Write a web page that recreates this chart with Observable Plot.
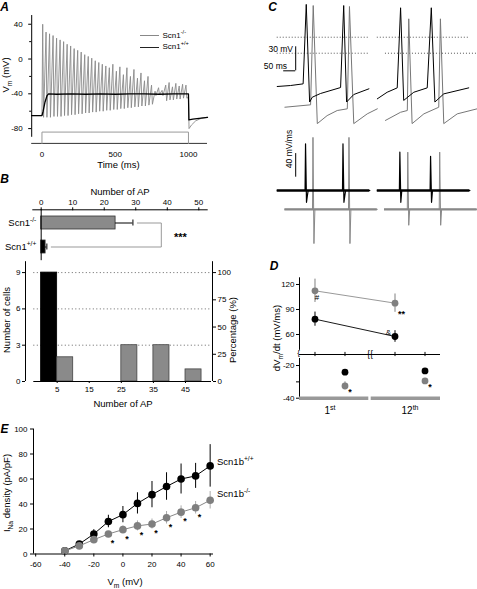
<!DOCTYPE html>
<html><head><meta charset="utf-8">
<script src="https://cdn.jsdelivr.net/npm/d3@7"></script>
<script src="https://cdn.jsdelivr.net/npm/@observablehq/plot@0.6"></script>
<style>
body{margin:0;background:#fff;}
#fig{position:relative;width:477px;height:589px;overflow:hidden;font-family:"Liberation Sans",Arial,Helvetica,sans-serif;color:#000;background:#fff;}
#fig svg{position:absolute;overflow:visible;}
.lbl{position:absolute;white-space:nowrap;line-height:1;}
.lbl sup,.lbl sub{font-size:70%;line-height:0;}
.pl{font-weight:bold;font-style:italic;}
.leg{position:absolute;height:0;}
</style></head><body><div id="fig"></div>
<script>
// ---------- Panel A : current-clamp traces ----------
const aTimeDomain = [-70, 1130];
const aPreT = [-70, 0];
const aPreV = [-65, -65];
const aSpikeT = [5,28,52,76,100,124,148,172,196,220,244,268,292,316,340,364,388,412,436,460,484,508,532,556,580,604,628,652,676,700,724,748,772,796,820,845,868,891,914,937,960,983];
const aSpikePeak = [40,31,29,27,24,22,20,17,15,12,10,8,5,3,1,-2,-4,-6,-8,-10,-6,-14,-9,-18,-10,-20,-12,-22,-16,-25,-20,-30,-37,-33,-36,-30,-27,-32,-28,-31,-29,-30];
const aSpikeTrough = [-67,-67,-67,-66,-66,-66,-65,-65,-64,-64,-63,-63,-62,-62,-61,-61,-60,-60,-59,-59,-58,-58,-57,-57,-56,-56,-55,-55,-54,-54,-53,-52,-42,-41,-42,-48,-47,-47,-46,-46,-45,-45];
const aTroughLag = 6;
const aOffT = [1000, 1004, 1020, 1050, 1090, 1130];
const aGrayOffV = [-44, -80, -76, -71, -68, -67];
const aBlackT = [-70,0,8,20,35,45,100,200,300,400,500,600,700,800,900,1000,1003,1030,1130];
const aBlackV = [-65,-65,-60,-50,-42,-40,-40.5,-40,-40.5,-40,-40.5,-40,-40,-40.5,-40,-40,-70,-69,-67];
const aStimT = [0, 0, 1000, 1000];
const aStimV = [-97, -84, -84, -97];

// ---------- Panel B ----------
const bGenotypes = ["Scn1^{-/-}", "Scn1^{+/+}"];
const bMeanAP = [23.6, 1.4];
const bSemAP = [5.5, 0.4];
const hBinStart = [0, 5, 25, 35, 45];
const hBinWidth = 5;
const hCounts = [9, 2, 3, 3, 1];
const hGeno = ["+/+", "-/-", "-/-", "-/-", "-/-"];
const hTotal = 9;
const pctTicks = [0, 25, 50, 75, 100];

// ---------- Panel C : example APs (ms, mV) and dV/dt (mV/ms) ----------
const cWT1 = [[3,-61.6],[58,-60.4],[111,-58.3],[124,41],[138,-81],[149,-75],[183,-70.4],[267,-62.9],[280,39.6],[292,-81],[322,-71.6],[385,-64.5]];
const cKO1 = [[35,-87.5],[142,-84.5],[153,39.6],[170,-108],[211,-98],[253,-91.6],[295,-89.5],[304,38.4],[322,-108],[378,-95.8],[420,-89.5]];
const cWT2 = [[420,-77],[461,-68.8],[503,-63.3],[517,36.8],[530,-79],[572,-68.8],[628,-63.3],[645,36.8],[660,-81],[697,-70.8],[801,-63.3]];
const cKO2 = [[454,-104],[517,-93.8],[545,-91.6],[551,23],[565,-108],[614,-95.8],[676,-87.5],[683,23],[697,-108],[753,-95.8],[836,-89.5]];
const cDWT1 = [[3,0],[119,0],[121,79],[125,-20],[129,-8],[132,0],[275,0],[277,79],[281,-20],[285,-8],[288,0],[389,0]];
const cDKO1 = [[35,-32],[150,-32],[152,90],[156,-90],[160,-32],[300,-32],[302,90],[306,-90],[310,-32],[420,-32]];
const cDWT2 = [[420,0],[512,0],[514,65],[518,-20],[522,0],[640,0],[642,58],[646,-20],[650,0],[806,0]];
const cDKO2 = [[450,-32],[545,-32],[547,65],[551,-59],[555,-32],[678,-32],[680,65],[684,-59],[688,-32],[836,-32]];
const cRefWT = 0, cRefKO = -20;
const cScaleMs = 50, cScaleMv = 30, cScaleDeriv = 40;
const cBarT = 80, cBarV = -42, cDerivBarBase = 22.5;

// ---------- Panel D : max dV/dt ----------
const dSpikes = ["1^{st}", "12^{th}"];
const dUpWT = [78.4, 57.6], dUpWTsem = [8.5, 7];
const dUpKO = [112.4, 97.6], dUpKOsem = [14, 11];
const dDownWT = [-24.1, -23.3], dDownWTsem = [1, 1];
const dDownKO = [-32.5, -29.4], dDownKOsem = [2.5, 1.5];

// ---------- Panel E : INa density ----------
const eVm = [-40,-30,-20,-10,0,10,20,30,40,50,60];
const eWT = [2.5, 8, 16, 26, 31.5, 40.5, 47.5, 54, 60, 62.5, 70.5];
const eWTsem = [0.5, 2, 3.5, 5, 6.5, 8.5, 10.5, 11, 12, 10, 17];
const eKO = [2.5, 6.5, 11.5, 16, 19.5, 22.5, 24, 29, 33.5, 37, 43];
const eKOsem = [0.5, 1, 1.5, 2, 3, 4, 4, 5, 5, 5, 7];
const eStarVm = [-10, 0, 10, 20, 30, 40, 50];

// ================= rendering =================
const fig = document.getElementById("fig");
const FONT = '"Liberation Sans", Arial, Helvetica, sans-serif';
const baseStyle = {fontFamily: FONT, fontSize: "8px", background: "none", color: "#000", overflow: "visible"};
const fmt = d => String(d);
const GRAY = "#8a8a8a";
const NS = "http://www.w3.org/2000/svg";

function supify(root) {
  root.querySelectorAll("text").forEach(t => {
    if (t.children.length) return;
    const s = t.textContent;
    if (!/[\^_]\{/.test(s)) return;
    const fs = parseFloat(getComputedStyle(t).fontSize) || 8;
    t.textContent = "";
    let cur = 0, last = 0, m;
    const re = /([\^_])\{([^}]*)\}/g;
    const add = (txt, target, small) => {
      const ts = document.createElementNS(NS, "tspan");
      ts.textContent = txt;
      const dy = target - cur;
      if (dy) ts.setAttribute("dy", dy);
      if (small) ts.setAttribute("font-size", (fs * 0.7).toFixed(2));
      cur = target;
      t.appendChild(ts);
    };
    while ((m = re.exec(s))) {
      if (m.index > last) add(s.slice(last, m.index), 0, false);
      add(m[2], m[1] === "^" ? -0.4 * fs : 0.25 * fs, true);
      last = re.lastIndex;
    }
    if (last < s.length) add(s.slice(last), 0, false);
  });
}
function place(svg, left, top) {
  svg.style.position = "absolute";
  svg.style.left = left + "px";
  svg.style.top = top + "px";
  svg.style.maxWidth = "none";
  fig.appendChild(svg);
  supify(svg);
}
function lab(html, x, y, o = {}) {
  const d = document.createElement("div");
  d.className = "lbl" + (o.cls ? " " + o.cls : "");
  d.innerHTML = html;
  d.style.fontSize = (o.size || 9.5) + "px";
  const ax = o.anchor === "start" ? "0%" : o.anchor === "end" ? "-100%" : "-50%";
  d.style.left = x + "px";
  d.style.top = y + "px";
  d.style.transform = `translate(${ax},-50%)` + (o.rot ? ` rotate(${o.rot}deg)` : "");
  fig.appendChild(d);
}
function legLine(x, y, w, color, sw) {
  const d = document.createElement("div");
  d.className = "leg";
  d.style.left = x + "px"; d.style.top = y + "px"; d.style.width = w + "px";
  d.style.borderTop = `${sw}px solid ${color}`;
  fig.appendChild(d);
}

// ---- Panel A ----
const aGrayRows = [];
aPreT.forEach((t, i) => aGrayRows.push({t, v: aPreV[i]}));
aSpikeT.forEach((t, i) => { aGrayRows.push({t, v: aSpikePeak[i]}); aGrayRows.push({t: t + aTroughLag, v: aSpikeTrough[i]}); });
aOffT.forEach((t, i) => aGrayRows.push({t, v: aGrayOffV[i]}));
const aBlackRows = aBlackT.map((t, i) => ({t, v: aBlackV[i]}));
const aStimRows = aStimT.map((t, i) => ({t, v: aStimV[i]}));

place(Plot.plot({
  width: 235, height: 175, marginLeft: 31.2, marginRight: 28, marginTop: 13.3, marginBottom: 29.5,
  x: {domain: aTimeDomain}, y: {domain: [-100, 52]}, style: baseStyle,
  marks: [
    Plot.ruleY([aStimV[0]], {x1: aTimeDomain[0], x2: aTimeDomain[1], stroke: "#333", strokeWidth: 1}),
    Plot.line(aStimRows, {x: "t", y: "v", stroke: "#999", strokeWidth: 1}),
    Plot.line(aGrayRows, {x: "t", y: "v", stroke: GRAY, strokeWidth: 0.9}),
    Plot.line(aBlackRows, {x: "t", y: "v", stroke: "#000", strokeWidth: 1.3}),
    Plot.ruleX([aTimeDomain[0]], {y1: -90, y2: 50}),
    Plot.axisY({ticks: [40, 0, -40, -80], tickSize: 3, tickPadding: 6, tickFormat: fmt, label: null}),
    Plot.axisY({ticks: [20, -20, -60], tickSize: 2, tickFormat: () => "", label: null}),
    Plot.axisX({ticks: [0, 500, 1000], tickSize: 0, tickPadding: 5, tickFormat: fmt, label: null})
  ]
}), 0, 0);

// ---- Panel B top ----
const bRows = bGenotypes.map((g, i) => ({g, mean: bMeanAP[i], sem: bSemAP[i]}));
const bBracketX = Math.max(...bRows.map(d => d.mean + d.sem)) + 9;
const bBracket = [
  {x: bRows[0].mean + bRows[0].sem + 1.4, g: bGenotypes[0]},
  {x: bBracketX, g: bGenotypes[0]},
  {x: bBracketX, g: bGenotypes[1]},
  {x: bRows[1].mean + bRows[1].sem + 1.4, g: bGenotypes[1]}
];
place(Plot.plot({
  width: 240, height: 80, marginLeft: 32.3, marginRight: 33.3, marginTop: 24.3, marginBottom: 4.8,
  x: {domain: [-2.66, 52.66]},
  y: {domain: bGenotypes, paddingInner: 0.45, paddingOuter: 0.263},
  color: {domain: bGenotypes, range: [GRAY, "#000"]},
  style: baseStyle,
  marks: [
    Plot.line(bBracket, {x: "x", y: "g", stroke: "#999", strokeWidth: 1}),
    Plot.barX(bRows, {x: "mean", y: "g", fill: "g", stroke: "#333", strokeWidth: 0.8}),
    Plot.ruleY(bRows, {y: "g", x1: "mean", x2: d => d.mean + d.sem, stroke: "#000"}),
    Plot.tickX(bRows, {x: d => d.mean + d.sem, y: "g", insetTop: 3.5, insetBottom: 3.5, stroke: "#000"}),
    Plot.text(["***"], {x: bBracketX + 4, y: () => bGenotypes[0], dy: 14, text: d => d, textAnchor: "start", fontSize: 11, fontWeight: "bold"}),
    Plot.ruleX([0]),
    Plot.frame({anchor: "top"}),
    Plot.axisX({anchor: "top", ticks: [0, 10, 20, 30, 40, 50], tickSize: 3, tickPadding: 2, tickFormat: fmt, label: null}),
    Plot.axisY({anchor: "left", tickSize: 0, tickPadding: 0, dx: 3.5, fontSize: 9.5, label: null})
  ]
}), 0, 185);

// ---- Panel B histogram ----
const hRows = hBinStart.map((x0, i) => ({x0, x1: x0 + hBinWidth, n: hCounts[i], g: hGeno[i]}));
const hX = [-2.28, 53.1], hY = [0, 9.9];
place(Plot.plot({
  width: 240, height: 160, marginLeft: 33.3, marginRight: 29, marginTop: 6.2, marginBottom: 34,
  x: {domain: hX}, y: {domain: hY},
  color: {domain: ["-/-", "+/+"], range: [GRAY, "#000"]},
  style: baseStyle,
  marks: [
    Plot.ruleY([3, 6, 9], {stroke: "#555", strokeDasharray: "1,2.5", strokeWidth: 0.9}),
    Plot.rectY(hRows, {x1: "x0", x2: "x1", y: "n", fill: "g", stroke: d => d.g === "+/+" ? "#000" : "#444", strokeWidth: 0.8}),
    Plot.ruleY([0]),
    Plot.ruleX([hX[0]], {y1: hY[0], y2: hY[1], dx: -8.3}),
    Plot.ruleX([hX[1]], {y1: hY[0], y2: hY[1], dx: 1}),
    Plot.axisY({anchor: "left", ticks: [0, 3, 6, 9], tickSize: 3, tickPadding: 2, dx: -8.3, tickFormat: fmt, label: null}),
    Plot.axisY({anchor: "right", ticks: pctTicks.map(p => p * hTotal / 100), tickSize: 3, tickPadding: 2, dx: 1,
      tickFormat: d => String(pctTicks.find(p => Math.abs(p * hTotal / 100 - d) < 1e-6)), label: null}),
    Plot.axisX({ticks: [5, 15, 25, 35, 45], tickSize: 2, tickPadding: 3, tickFormat: fmt, label: null})
  ]
}), 0, 255);

// ---- Panel C top (Vm) ----
const toRows = (arr, key) => arr.map(([t, v]) => ({t, v, key}));
const cTop = [...toRows(cWT1, "wt1"), ...toRows(cWT2, "wt2")];
const cTopKO = [...toRows(cKO1, "ko1"), ...toRows(cKO2, "ko2")];
const ext = a => [a[0][0], a[a.length - 1][0]];
const cRefs = [
  {v: cRefWT, t1: ext(cWT1)[0], t2: ext(cWT1)[1]},
  {v: cRefWT, t1: ext(cWT2)[0], t2: ext(cWT2)[1]},
  {v: cRefKO, t1: ext(cWT1)[0], t2: ext(cWT1)[1]},
  {v: cRefKO, t1: ext(cKO2)[0], t2: ext(cKO2)[1]}
];
const cXd = [-150, 837.5];
place(Plot.plot({
  width: 237, height: 130, margin: 0,
  x: {domain: cXd, axis: null}, y: {domain: [-116.6, 45.9], axis: null}, style: baseStyle,
  marks: [
    Plot.ruleY(cRefs, {y: "v", x1: "t1", x2: "t2", stroke: "#444", strokeDasharray: "1,2", strokeWidth: 0.9}),
    Plot.line(cTopKO, {x: "t", y: "v", z: "key", stroke: "#777", strokeWidth: 1}),
    Plot.line(cTop, {x: "t", y: "v", z: "key", stroke: "#000", strokeWidth: 1}),
    Plot.ruleX([cBarT], {y1: cBarV, y2: cBarV + cScaleMv, stroke: "#000"}),
    Plot.ruleY([cBarV], {x1: cBarT - cScaleMs, x2: cBarT, stroke: "#000"})
  ]
}), 240, 0);

// ---- Panel C bottom (dV/dt) ----
const cBotWT = [...toRows(cDWT1, "w1"), ...toRows(cDWT2, "w2")];
const cBotKO = [...toRows(cDKO1, "k1"), ...toRows(cDKO2, "k2")];
const baseSeg = (a, key) => ({v: a[0][1], t1: a[0][0], t2: a[a.length - 1][0], key});
const cBaseWT = [baseSeg(cDWT1), baseSeg(cDWT2)];
const cBaseKO = [baseSeg(cDKO1), baseSeg(cDKO2)];
place(Plot.plot({
  width: 237, height: 135, margin: 0,
  x: {domain: cXd, axis: null}, y: {domain: [-110.2, 118.6], axis: null}, style: baseStyle,
  marks: [
    Plot.ruleY(cBaseKO, {y: "v", x1: "t1", x2: "t2", stroke: "#888", strokeWidth: 2.4}),
    Plot.line(cBotKO, {x: "t", y: "v", z: "key", stroke: "#888", strokeWidth: 1}),
    Plot.ruleY(cBaseWT, {y: "v", x1: "t1", x2: "t2", stroke: "#000", strokeWidth: 2.6}),
    Plot.line(cBotWT, {x: "t", y: "v", z: "key", stroke: "#000", strokeWidth: 1.2}),
    Plot.ruleX([cBarT], {y1: cDerivBarBase, y2: cDerivBarBase + cScaleDeriv, stroke: "#000"})
  ]
}), 240, 120);

// ---- Panel D ----
const dRows = dSpikes.map((s, i) => ({i: i + 1, s,
  upWT: dUpWT[i], upWTs: dUpWTsem[i], upKO: dUpKO[i], upKOs: dUpKOsem[i],
  dnWT: dDownWT[i], dnWTs: dDownWTsem[i], dnKO: dDownKO[i], dnKOs: dDownKOsem[i]}));
const dX = [0.619, 2.381];
const DG = "#808080";
place(Plot.plot({
  width: 237, height: 95, marginLeft: 59, marginRight: 37, marginTop: 12.3, marginBottom: 6,
  x: {domain: dX, axis: null}, y: {domain: [36, 128]}, style: baseStyle,
  marks: [
    Plot.ruleX([dX[0]], {y1: 41, y2: 128}),
    Plot.ruleY([36]),
    Plot.ruleX(dRows, {x: "i", y1: 33.5, y2: 38.5, dx: -15}),
    Plot.ruleX(dRows, {x: "i", y1: 33.5, y2: 38.5, dx: 15}),
    Plot.text(["{{"], {x: () => 1.5, y: () => 36, text: d => d, fontSize: 9, fill: "#000"}),
    Plot.text(["{"], {x: () => dX[0], y: () => 39, text: d => d, fontSize: 8, dx: -1, fill: "#000"}),
    Plot.line(dRows, {x: "i", y: "upKO", stroke: "#999", strokeWidth: 1, dx: -15}),
    Plot.line(dRows, {x: "i", y: "upWT", stroke: "#000", strokeWidth: 0.9, dx: -15}),
    Plot.ruleX(dRows, {x: "i", y1: d => d.upKO - d.upKOs, y2: d => d.upKO + d.upKOs, stroke: DG, dx: -15}),
    Plot.ruleX(dRows, {x: "i", y1: d => d.upWT - d.upWTs, y2: d => d.upWT + d.upWTs, stroke: "#000", dx: -15}),
    Plot.dot(dRows, {x: "i", y: "upKO", r: 3.4, fill: DG, dx: -15}),
    Plot.dot(dRows, {x: "i", y: "upWT", r: 3.4, fill: "#000", dx: -15}),
    Plot.text(dRows.slice(0, 1), {x: "i", y: "upKO", text: () => "#", dx: -13, dy: 7, fontSize: 8}),
    Plot.text(dRows.slice(1, 2), {x: "i", y: "upKO", text: () => "**", dx: -12, dy: 10.5, textAnchor: "start", fontSize: 9, fontWeight: "bold"}),
    Plot.text(dRows.slice(1, 2), {x: "i", y: "upWT", text: () => "&", dx: -21.6, dy: -4.3, fontSize: 8}),
    Plot.axisY({ticks: [60, 90, 120], tickSize: 3, tickPadding: 2, tickFormat: fmt, label: null})
  ]
}), 240, 265);

place(Plot.plot({
  width: 237, height: 70, marginLeft: 59, marginRight: 37, marginTop: 3, marginBottom: 27.3,
  x: {domain: dX}, y: {domain: [-40, -15.7]}, style: baseStyle,
  marks: [
    Plot.ruleX([dX[0]], {y1: -40, y2: -15.7}),
    Plot.ruleY(dRows, {y: () => -40, x1: d => Math.max(d.i - 0.485, dX[0]), x2: d => Math.min(d.i + 0.485, dX[1]), stroke: "#999", strokeWidth: 3.5}),
    Plot.ruleX(dRows, {x: "i", y1: d => d.dnKO - d.dnKOs, y2: d => d.dnKO + d.dnKOs, stroke: DG, dx: 15}),
    Plot.dot(dRows, {x: "i", y: "dnWT", r: 3.4, fill: "#000", dx: 15}),
    Plot.dot(dRows, {x: "i", y: "dnKO", r: 3.4, fill: DG, dx: 15}),
    Plot.text(dRows, {x: "i", y: "dnKO", text: () => "*", dx: (15 + 5), dy: 6.5, fontSize: 9, fontWeight: "bold"}),
    Plot.axisY({ticks: [-20, -30, -40], tickSize: 3, tickPadding: 2, tickFormat: d => d === -30 ? "" : String(d), label: null}),
    Plot.axisX({ticks: [1, 2], tickSize: 0, tickPadding: 9, tickFormat: d => dSpikes[d - 1], fontSize: 10, label: null})
  ]
}), 240, 355);

// ---- Panel E ----
const eRows = eVm.map((vm, i) => ({vm, wt: eWT[i], wts: eWTsem[i], ko: eKO[i], kos: eKOsem[i]}));
const eX = [-61.5, 62.3];
place(Plot.plot({
  width: 240, height: 169, marginLeft: 33, marginRight: 27, marginTop: 8.5, marginBottom: 35.5,
  x: {domain: eX}, y: {domain: [0, 100]}, style: baseStyle,
  marks: [
    Plot.ruleX([eX[0]]),
    Plot.ruleY([0]),
    Plot.ruleX(eRows, {x: "vm", y1: d => d.wt - d.wts, y2: d => d.wt + d.wts, stroke: "#000"}),
    Plot.line(eRows, {x: "vm", y: "wt", stroke: "#000", strokeWidth: 1}),
    Plot.dot(eRows, {x: "vm", y: "wt", r: 3.8, fill: "#000"}),
    Plot.ruleX(eRows, {x: "vm", y1: d => d.ko - d.kos, y2: d => d.ko + d.kos, stroke: "#aaa"}),
    Plot.line(eRows, {x: "vm", y: "ko", stroke: "#888", strokeWidth: 1}),
    Plot.dot(eRows, {x: "vm", y: "ko", r: 3.8, fill: "#7f7f7f"}),
    Plot.text(eRows.filter(d => eStarVm.includes(d.vm)), {x: "vm", y: "ko", text: () => "*", dx: 4, dy: 9, fontSize: 9, fontWeight: "bold"}),
    Plot.axisY({ticks: [0, 20, 40, 60, 80, 100], tickSize: 3, tickPadding: 3, tickFormat: fmt, label: null}),
    Plot.axisX({ticks: [-60, -40, -20, 0, 20, 40, 60], tickSize: 3, tickPadding: 4, tickFormat: fmt, label: null})
  ]
}), 0, 420);

// ---------- text labels ----------
lab("A", 4.5, 6.5, {cls: "pl", size: 12});
lab("B", 4.5, 179, {cls: "pl", size: 12});
lab("C", 272.5, 7, {cls: "pl", size: 12});
lab("D", 274, 266, {cls: "pl", size: 12});
lab("E", 4.5, 428.5, {cls: "pl", size: 12});

lab("V<sub>m</sub> (mV)", 6, 75, {rot: -90});
lab("Time (ms)", 118.5, 165);
legLine(140, 35.2, 19, "#888", 1);
legLine(140, 46.8, 19, "#222", 1.3);
lab("Scn1<sup>-/-</sup>", 162.5, 35.7, {anchor: "start", size: 8});
lab("Scn1<sup>+/+</sup>", 162.5, 47.3, {anchor: "start", size: 8});

lab("Number of AP", 120, 191.5);
lab("Number of cells", 7, 320, {rot: -90});
lab("Percentage (%)", 233, 330, {rot: -90});
lab("Number of AP", 123, 404);

lab("30 mV", 293, 49, {anchor: "end", size: 8.5});
lab("50 ms", 287, 66, {anchor: "end", size: 8.5});
lab("40 mV/ms", 289, 149, {rot: -90, size: 8.5});

lab("dV<sub>m</sub>/dt (mV/ms)", 277, 338, {rot: -90});

lab("Scn1b<sup>+/+</sup>", 217, 462, {anchor: "start"});
lab("Scn1b<sup>-/-</sup>", 217, 494, {anchor: "start"});
lab("I<sub>Na</sub> density (pA/pF)", 7, 493, {rot: -90});
lab("V<sub>m</sub> (mV)", 125, 581.5);
</script></body></html>
